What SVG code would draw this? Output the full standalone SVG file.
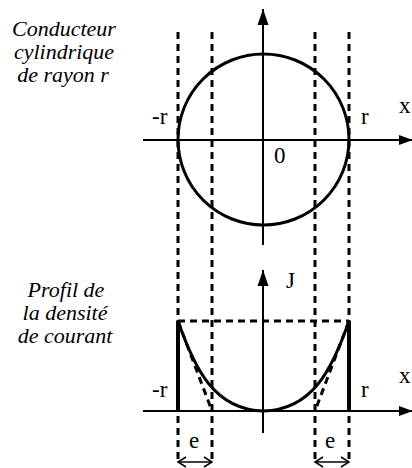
<svg xmlns="http://www.w3.org/2000/svg" width="412" height="468" viewBox="0 0 412 468">
<style>
.lab{font-family:"Liberation Serif","Times New Roman",serif;font-size:23px;fill:#000}
.it{font-family:"Liberation Serif","Times New Roman",serif;font-size:22px;font-style:italic;fill:#000;text-anchor:middle}
.axis{stroke:#000;stroke-width:2;fill:none}
.dash{stroke:#000;stroke-width:3;stroke-dasharray:7 5;fill:none}
.thick{stroke:#000;stroke-width:4;fill:none}
.curve{stroke:#000;stroke-width:3;fill:none}
.dbl{stroke:#000;stroke-width:1.5;fill:none}
</style>
<defs>
<marker id="ah" markerUnits="userSpaceOnUse" markerWidth="16" markerHeight="12" refX="16" refY="6" orient="auto">
<path d="M0,0.5 L16,6 L0,11.5 Z" fill="#000"/>
</marker>
<marker id="ahh" markerUnits="userSpaceOnUse" markerWidth="14" markerHeight="10" refX="14" refY="5" orient="auto">
<path d="M0,0 L14,5 L0,10 Z" fill="#000"/>
</marker>
</defs>
<g id="labels-left">
<text class="it" x="64" y="36">Conducteur</text>
<text class="it" x="64" y="59">cylindrique</text>
<text class="it" x="63" y="82">de rayon r</text>
<text class="it" x="66" y="297">Profil de</text>
<text class="it" x="65" y="320">la densité</text>
<text class="it" x="65" y="343">de courant</text>
</g>
<g id="connectors">
<line class="dash" x1="178" y1="32" x2="178" y2="464"/>
<line class="dash" x1="212" y1="32" x2="212" y2="464"/>
<line class="dash" x1="315" y1="32" x2="315" y2="464"/>
<line class="dash" x1="349" y1="32" x2="349" y2="464"/>
</g>
<g id="top-plot">
<line class="axis" x1="263" y1="245" x2="263" y2="9" marker-end="url(#ah)"/>
<line class="axis" x1="143" y1="140" x2="413" y2="140" marker-end="url(#ahh)"/>
<circle class="curve" cx="263.5" cy="139.5" r="85.5"/>
<text class="lab" x="152" y="124">-r</text>
<text class="lab" x="361" y="124">r</text>
<text class="lab" x="399" y="113">x</text>
<text class="lab" x="274" y="163">0</text>
</g>
<g id="bottom-plot">
<line class="axis" x1="263" y1="433" x2="263" y2="270" marker-end="url(#ah)"/>
<line class="axis" x1="143" y1="411" x2="413" y2="411" marker-end="url(#ahh)"/>
<line class="dash" x1="178" y1="321" x2="349" y2="321"/>
<line class="dash" x1="178" y1="321" x2="212" y2="411"/>
<line class="dash" x1="349" y1="321" x2="315" y2="411"/>
<line class="thick" x1="178" y1="321" x2="178" y2="411"/>
<line class="thick" x1="349" y1="321" x2="349" y2="411"/>
<path class="curve" d="M178,321 C195,370 215,410 263.5,411 C312,410 332,370 349,321"/>
<text class="lab" x="152" y="397">-r</text>
<text class="lab" x="361" y="397">r</text>
<text class="lab" x="399" y="383">x</text>
<text class="lab" x="286" y="288">J</text>
</g>
<g id="e-marks">
<line class="dbl" x1="178" y1="462" x2="212" y2="462"/>
<polyline class="dbl" points="186,457 178,462 186,467"/>
<polyline class="dbl" points="204,457 212,462 204,467"/>
<line class="dbl" x1="315" y1="462" x2="349" y2="462"/>
<polyline class="dbl" points="323,457 315,462 323,467"/>
<polyline class="dbl" points="341,457 349,462 341,467"/>
<text class="lab" x="189" y="448">e</text>
<text class="lab" x="325" y="448">e</text>
</g>
</svg>
